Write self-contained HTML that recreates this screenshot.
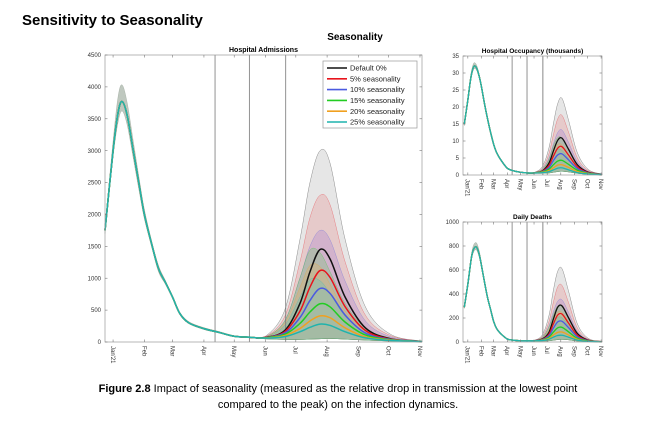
<!DOCTYPE html>
<html><head><meta charset="utf-8">
<style>
body{margin:0;background:#fff;width:654px;height:427px;overflow:hidden;font-family:"Liberation Sans",Arial,sans-serif;}
svg{position:absolute;left:0;top:0}
</style></head>
<body>
<svg width="654" height="427" id="chart">
<text x="22" y="25" font-size="15" font-weight="bold">Sensitivity to Seasonality</text>
<text x="355" y="40" font-size="10" font-weight="bold" text-anchor="middle">Seasonality</text>
<text x="338" y="392" font-size="11" text-anchor="middle"><tspan font-weight="bold">Figure 2.8</tspan> Impact of seasonality (measured as the relative drop in transmission at the lowest point</text>
<text x="338" y="408" font-size="11" text-anchor="middle">compared to the peak) on the infection dynamics.</text>
</svg>
<script>
// ---- shared data ----
const days1 = [-8,0,5,9,14,20,26,31,38,45,52,59,66,75,90,105,120,135];
const days2 = [150,170,185,195,205,215,230,250,275,306];
const seriesNames = ["Default 0%","5% seasonality","10% seasonality","15% seasonality","20% seasonality","25% seasonality"];
const monthLabels = ["Jan'21","Feb","Mar","Apr","May","Jun","Jul","Aug","Sep","Oct","Nov"];
const monthDays = [0,31,59,90,120,151,181,212,243,273,304];
const interventionDays = [101,135,171];

// Hospital admissions
const admFirstMean = [1750,3000,3600,3770,3550,3000,2450,2000,1550,1150,930,700,450,300,210,150,90,75];
const admFirstUpper = [1800,3150,3850,4030,3750,3150,2550,2080,1600,1200,960,720,470,320,225,165,100,85];
const admFirstLower = [1700,2900,3450,3620,3400,2880,2350,1930,1500,1100,900,680,430,290,195,140,80,65];
const admDef = [70,180,600,1100,1450,1300,700,220,50,10];
const adm5 = [70,160,480,860,1120,1010,550,180,45,10];
const adm10 = [65,140,380,650,840,760,420,140,40,10];
const adm15 = [65,120,290,470,600,550,310,110,35,8];
const adm20 = [60,100,210,330,410,380,220,80,30,8];
const adm25 = [60,85,160,230,280,260,160,65,25,8];
const admUpDef = [80,500,1600,2500,3000,2800,1600,550,120,15];
const admUp5 = [75,400,1250,1950,2300,2150,1250,420,100,15];
const admUp10 = [75,330,1000,1500,1750,1600,950,330,80,12];
const admUp15 = [70,330,1000,1440,1400,1100,600,220,60,10];
const admUp20 = [70,300,850,1200,1180,900,480,180,50,10];
const admUp25 = [65,260,700,980,960,760,400,150,45,10];
const admLower = [50,40,40,45,50,55,45,30,15,5];
const admTicks = [0,500,1000,1500,2000,2500,3000,3500,4000,4500];

// Hospital occupancy (thousands)
const occFirstMean = [15,22,27,30,32,31.5,29,26,21,16.5,12.5,9,6.5,4.5,2,1.2,0.8,0.6];
const occFirstUpper = [15.5,22.8,28,31,33,32.3,29.6,26.5,21.4,16.8,12.7,9.2,6.6,4.6,2.1,1.3,0.85,0.65];
const occFirstLower = [14.5,21.3,26.2,29.2,31.2,30.8,28.4,25.5,20.6,16.2,12.3,8.8,6.4,4.4,1.9,1.1,0.75,0.55];
const occDef = [0.6,1.2,3.5,7,10.2,10.8,7.5,3,0.8,0.2];
const occ5 = [0.6,1.1,2.8,5.5,7.9,8.3,5.8,2.4,0.7,0.2];
const occ10 = [0.6,1,2.2,4.2,5.9,6.2,4.4,1.9,0.6,0.2];
const occ15 = [0.6,0.9,1.7,3,4.1,4.3,3.1,1.4,0.5,0.1];
const occ20 = [0.6,0.8,1.3,2.1,2.9,3,2.2,1,0.4,0.1];
const occ25 = [0.6,0.7,1,1.5,2,2.1,1.5,0.7,0.3,0.1];
const occUpDef = [0.7,2.5,8,15,21,22.5,16,6.5,1.6,0.3];
const occUp5 = [0.7,2,6.3,11.8,16.5,17.5,12.5,5,1.3,0.3];
const occUp10 = [0.7,1.7,5,9,12.5,13.2,9.5,3.9,1,0.2];
const occUp15 = [0.7,1.6,4.6,8.5,11,10.8,7.2,2.9,0.8,0.2];
const occUp20 = [0.7,1.4,3.8,7,9,8.8,5.8,2.3,0.7,0.2];
const occUp25 = [0.7,1.2,3.2,5.8,7.5,7.2,4.8,1.9,0.6,0.2];
const occLower = [0.5,0.5,0.6,0.8,1,1.1,0.9,0.5,0.2,0.05];
const occTicks = [0,5,10,15,20,25,30,35];

// Daily deaths
const dthFirstMean = [290,480,620,720,780,790,730,640,500,370,270,170,110,70,25,15,10,10];
const dthFirstUpper = [300,500,645,750,815,825,760,665,515,380,277,175,113,72,27,16,11,11];
const dthFirstLower = [280,462,600,695,755,765,705,620,485,360,263,165,107,68,23,14,9,9];
const dthDef = [10,25,80,190,290,300,200,70,15,3];
const dth5 = [10,22,65,150,225,232,155,55,12,3];
const dth10 = [10,20,52,115,168,172,118,42,10,2];
const dth15 = [10,17,40,82,118,122,84,30,8,2];
const dth20 = [10,15,30,58,80,83,58,22,6,2];
const dth25 = [10,13,23,40,54,56,40,16,5,2];
const dthUpDef = [12,60,220,430,590,610,420,150,30,5];
const dthUp5 = [12,48,170,330,460,470,325,115,24,4];
const dthUp10 = [12,40,135,250,340,350,245,88,19,4];
const dthUp15 = [12,38,125,225,300,295,200,70,15,3];
const dthUp20 = [12,34,105,185,250,245,165,58,13,3];
const dthUp25 = [12,30,88,155,205,200,135,48,11,3];
const dthLower = [8,8,10,15,20,22,18,8,3,1];
const dthTicks = [0,200,400,600,800,1000];

const lineColors = ["#111","#e8141c","#4b5ae0","#22cc22","#f0a020","#1fb3ad"];
const fillColors = ["#b8b8b8","#e88a8a","#a57ad0","#6cc96c","#e8b060","#5cc8c2"];

const NS="http://www.w3.org/2000/svg";
const svg=document.getElementById('chart');
function mk(tag,attrs,parent){const e=document.createElementNS(NS,tag);for(const k in attrs)e.setAttribute(k,attrs[k]);(parent||svg).appendChild(e);return e;}

function smooth(pts){
  let d="M"+pts[0][0].toFixed(2)+","+pts[0][1].toFixed(2);
  for(let i=0;i<pts.length-1;i++){
    const p0=pts[Math.max(i-1,0)],p1=pts[i],p2=pts[i+1],p3=pts[Math.min(i+2,pts.length-1)];
    const c1=[p1[0]+(p2[0]-p0[0])/6,p1[1]+(p2[1]-p0[1])/6];
    const c2=[p2[0]-(p3[0]-p1[0])/6,p2[1]-(p3[1]-p1[1])/6];
    d+="C"+c1[0].toFixed(2)+","+c1[1].toFixed(2)+" "+c2[0].toFixed(2)+","+c2[1].toFixed(2)+" "+p2[0].toFixed(2)+","+p2[1].toFixed(2);
  }
  return d;
}

function panel(cfg){
  const g=mk('g',{});
  
  
  const X=d=>cfg.x0+(d-cfg.d0)/(cfg.d1-cfg.d0)*(cfg.x1-cfg.x0);
  const Y=v=>cfg.y0-(v/cfg.ymax)*(cfg.y0-cfg.y1);
  const fs=cfg.fs;
  const t=mk('text',{x:(cfg.x0+cfg.x1)/2,y:cfg.y1-3,'font-size':cfg.tfs,'font-weight':'bold','text-anchor':'middle'},g);
  t.textContent=cfg.title;
  
  
  const lw=days1.concat(days2);
  // first-wave band (single, shared)
  {
    const top=cfg.first.upper.map((v,i)=>[X(days1[i]),Y(v)]);
    const bot=cfg.first.lower.map((v,i)=>[X(days1[i]),Y(v)]).reverse();
    const b=mk('path',{d:smooth(top)+"L"+smooth(bot).slice(1)+"Z",fill:'#8a9a8a','fill-opacity':0.55,stroke:'#7a8a7a','stroke-opacity':0.5,'stroke-width':0.5},g);
    
    
  }
  // second-wave bands
  const start=days1.length-1;
  for(let s=0;s<6;s++){
    const up=[cfg.first.upper[start]].concat(cfg.uppers[s]);
    const lo=[cfg.first.lower[start]].concat(cfg.lower);
    const dd=lw.slice(start);
    const top=up.map((v,i)=>[X(dd[i]),Y(v)]);
    const bot=lo.map((v,i)=>[X(dd[i]),Y(v)]).reverse();
    const b=mk('path',{d:smooth(top)+"L"+smooth(bot).slice(1)+"Z",fill:fillColors[s],'fill-opacity':s==0?0.35:0.3,stroke:lineColors[s],'stroke-opacity':0.45,'stroke-width':0.5},g);
    
    
  }
  interventionDays.forEach((d,i)=>{
    const l=mk('line',{x1:X(d),x2:X(d),y1:cfg.y1,y2:cfg.y0,stroke:i==2&&cfg.small?'#aaa':'#777','stroke-width':i==2&&cfg.small?1.4:0.8},g);
    
    
  });
  for(let s=0;s<6;s++){
    const m=cfg.first.mean.concat(cfg.means[s]);
    const pts=m.map((v,i)=>[X(lw[i]),Y(v)]);
    const p=mk('path',{d:smooth(pts),fill:'none',stroke:lineColors[s],'stroke-width':cfg.small?1.3:1.5},g);
    
    
  }
  const box=mk('rect',{x:cfg.x0,y:cfg.y1,width:cfg.x1-cfg.x0,height:cfg.y0-cfg.y1,fill:'none',stroke:'#999','stroke-width':0.7},g);
  
  
  cfg.ticks.forEach(v=>{
    mk('line',{x1:cfg.x0,x2:cfg.x0+2.5,y1:Y(v),y2:Y(v),stroke:'#777','stroke-width':0.6},g);
    mk('line',{x1:cfg.x1,x2:cfg.x1-2.5,y1:Y(v),y2:Y(v),stroke:'#777','stroke-width':0.6},g);
    const tx=mk('text',{x:cfg.x0-4,y:Y(v)+fs*0.35,'font-size':fs,'text-anchor':'end',fill:'#333'},g);
    tx.textContent=v;
    
    
  });
  monthDays.forEach((d,i)=>{
    const x=X(d);
    mk('line',{x1:x,x2:x,y1:cfg.y0,y2:cfg.y0-2.5,stroke:'#777','stroke-width':0.6},g);
    mk('line',{x1:x,x2:x,y1:cfg.y1,y2:cfg.y1+2.5,stroke:'#777','stroke-width':0.6},g);
    const tx=mk('text',{x:0,y:0,'font-size':fs,fill:'#333',transform:`translate(${x-fs*0.35},${cfg.y0+4}) rotate(90)`},g);
    tx.textContent=monthLabels[i];
    
    
  });
}

panel({name:'hospital-admissions-panel',title:'Hospital Admissions',x0:105,x1:422,y0:342,y1:55,d0:-8,d1:306,ymax:4500,ticks:admTicks,fs:6,tfs:7,small:false,
  first:{mean:admFirstMean,upper:admFirstUpper,lower:admFirstLower},
  means:[admDef,adm5,adm10,adm15,adm20,adm25],uppers:[admUpDef,admUp5,admUp10,admUp15,admUp20,admUp25],lower:admLower});
panel({name:'hospital-occupancy-panel',title:'Hospital Occupancy (thousands)',x0:463,x1:602,y0:175,y1:56,d0:-11,d1:306,ymax:35,ticks:occTicks,fs:6,tfs:6.5,small:true,
  first:{mean:occFirstMean,upper:occFirstUpper,lower:occFirstLower},
  means:[occDef,occ5,occ10,occ15,occ20,occ25],uppers:[occUpDef,occUp5,occUp10,occUp15,occUp20,occUp25],lower:occLower});
panel({name:'daily-deaths-panel',title:'Daily Deaths',x0:463,x1:602,y0:342,y1:222,d0:-11,d1:306,ymax:1000,ticks:dthTicks,fs:6,tfs:6.5,small:true,
  first:{mean:dthFirstMean,upper:dthFirstUpper,lower:dthFirstLower},
  means:[dthDef,dth5,dth10,dth15,dth20,dth25],uppers:[dthUpDef,dthUp5,dthUp10,dthUp15,dthUp20,dthUp25],lower:dthLower});

const lg=mk('g',{});


mk('rect',{x:323,y:61,width:94,height:67,fill:'#fff',stroke:'#999','stroke-width':0.7},lg);
seriesNames.forEach((n,i)=>{
  const y=68+i*10.8;
  const l=mk('line',{x1:327,x2:347,y1:y,y2:y,stroke:lineColors[i],'stroke-width':1.6},lg);
  
  
  const t=mk('text',{x:350,y:y+2.6,'font-size':7.5,fill:'#222'},lg);
  t.textContent=n;
  
  
});
</script>
</body></html>
